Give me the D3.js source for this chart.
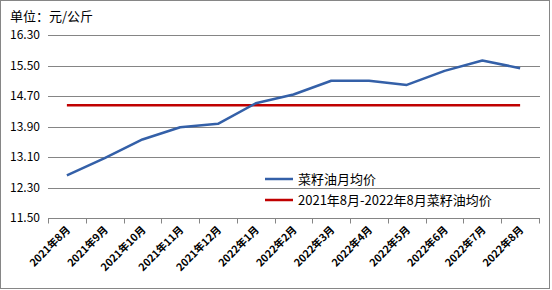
<!DOCTYPE html>
<html>
<head>
<meta charset="utf-8">
<script src="https://cdn.jsdelivr.net/npm/d3@7"></script>
<style>
  body { margin: 0; background: #fff; }
  svg text { font-family: "Noto Sans CJK SC", "DejaVu Sans", sans-serif; }
</style>
</head>
<body>
<div id="chart"></div>
<script>
// 月份
const months = ['2021年8月', '2021年9月', '2021年10月', '2021年11月', '2021年12月',
    '2022年1月', '2022年2月', '2022年3月', '2022年4月', '2022年5月',
    '2022年6月', '2022年7月', '2022年8月'];
// 菜籽油月均价
const monthlyPrice = [12.62, 13.07, 13.56, 13.88, 13.97, 14.51, 14.74, 15.10, 15.10, 14.99, 15.36, 15.63, 15.43];
// 均价
const avgPrice = 14.46;
const yTicks = [11.50, 12.30, 13.10, 13.90, 14.70, 15.50, 16.30];
const seriesNames = ['菜籽油月均价', '2021年8月-2022年8月菜籽油均价'];

const width = 552, height = 290;
const svg = d3.select('#chart').append('svg')
    .attr('width', width)
    .attr('height', height);

// 外框
svg.append('rect')
    .attr('x', 0.5).attr('y', 0.5)
    .attr('width', 549).attr('height', 288)
    .attr('fill', '#fff')
    .attr('stroke', '#868686');

// 标题
svg.append('text')
    .attr('x', 10).attr('y', 21)
    .attr('font-size', '13px')
    .text('单位：元/公斤');

const x = d3.scaleBand().domain(months).range([48, 539]);
const y = d3.scaleLinear().domain([11.5, 16.3]).range([218, 35]);

// 网格线
svg.append('g')
    .selectAll('line')
    .data(yTicks.slice(1))
    .enter().append('line')
    .attr('x1', 48).attr('x2', 540)
    .attr('y1', d => Math.round(y(d)) + 0.5)
    .attr('y2', d => Math.round(y(d)) + 0.5)
    .attr('stroke', '#858585');

// y轴标签
svg.append('g')
    .selectAll('text')
    .data(yTicks)
    .enter().append('text')
    .attr('x', 40)
    .attr('y', d => y(d) + 4)
    .attr('text-anchor', 'end')
    .attr('font-size', '12px')
    .text(d => d.toFixed(2));

// x轴
const xAxis = svg.append('g')
    .attr('transform', 'translate(0,' + (Math.round(y(11.5)) + 0.5) + ')');
xAxis.append('line')
    .attr('x1', 48).attr('x2', 540)
    .attr('stroke', '#858585');
xAxis.selectAll('.tick')
    .data(months.concat(['end']))
    .enter().append('line')
    .attr('x1', (d, i) => Math.round(48 + i * x.step()) + 0.5)
    .attr('x2', (d, i) => Math.round(48 + i * x.step()) + 0.5)
    .attr('y1', 0).attr('y2', 5)
    .attr('stroke', '#858585');
xAxis.selectAll('text')
    .data(months)
    .enter().append('text')
    .attr('transform', d => 'translate(' + (x(d) + x.bandwidth() / 2 + 4) + ',12) rotate(-45)')
    .attr('text-anchor', 'end')
    .attr('font-size', '10.5px')
    .attr('font-weight', 'bold')
    .text(d => d);

const cx = d => x(d) + x.bandwidth() / 2;

// 均价线
svg.append('line')
    .attr('x1', cx(months[0])).attr('x2', cx(months[months.length - 1]))
    .attr('y1', y(avgPrice)).attr('y2', y(avgPrice))
    .attr('stroke', '#c00000')
    .attr('stroke-width', 2.5);

// 月均价线
const line = d3.line()
    .x((d, i) => cx(months[i]))
    .y(d => y(d));
svg.append('path')
    .datum(monthlyPrice)
    .attr('d', line)
    .attr('fill', 'none')
    .attr('stroke', '#3460a8')
    .attr('stroke-width', 2.5)
    .attr('stroke-linejoin', 'round');

// 图例
const legend = svg.append('g');
const colors = ['#3460a8', '#c00000'];
seriesNames.forEach((name, i) => {
    const ly = 179 + i * 21;
    legend.append('line')
        .attr('x1', 265).attr('x2', 293)
        .attr('y1', ly).attr('y2', ly)
        .attr('stroke', colors[i])
        .attr('stroke-width', 2.5);
    legend.append('text')
        .attr('x', 298).attr('y', ly + 5)
        .attr('font-size', '13px')
        .text(name);
});
</script>
</body>
</html>
